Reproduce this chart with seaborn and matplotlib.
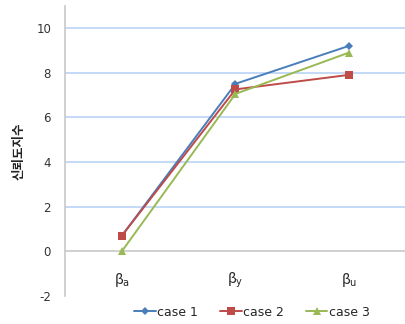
import matplotlib
matplotlib.use("Agg")
import matplotlib.pyplot as plt
import seaborn as sns
import pandas as pd

categories = ["β$_\\mathrm{a}$", "β$_\\mathrm{y}$", "β$_\\mathrm{u}$"]
case1 = [0.7, 7.5, 9.2]
case2 = [0.7, 7.25, 7.9]
case3 = [0.0, 7.05, 8.9]
series_names = ["case 1", "case 2", "case 3"]
y_ticks = [-2, 0, 2, 4, 6, 8, 10]

rows = []
for name, vals in zip(series_names, [case1, case2, case3]):
    for i, v in enumerate(vals):
        rows.append({"pos": i, "value": v, "case": name})
df = pd.DataFrame(rows)

sns.set_style("white")
plt.rcParams["font.family"] = ["Noto Sans CJK KR", "DejaVu Sans"]
plt.rcParams["mathtext.fontset"] = "dejavusans"

fig = plt.figure(figsize=(4.06, 3.24), dpi=100)
ax = fig.add_axes([65 / 406, 28 / 324, 341 / 406, 290.4 / 324])

palette = {"case 1": "#4a7ebb", "case 2": "#be4b48", "case 3": "#98b954"}
markers = {"case 1": "D", "case 2": "s", "case 3": "^"}
sizes = {"case 1": 4.5, "case 2": 6, "case 3": 6}

for g in y_ticks:
    if g > 0:
        ax.axhline(g, color="#b9d3f5", lw=1.2, zorder=0)

sns.lineplot(data=df, x="pos", y="value", hue="case", style="case",
             palette=palette, markers=markers, dashes=False, lw=1.4,
             markeredgewidth=0, markersize=6, legend=False, ax=ax, zorder=3)
for line, name in zip(ax.lines[-3:], series_names):
    line.set_markersize(sizes[name])

ax.set_xlim(-0.5, 2.5)
ax.set_ylim(-2, 11)
ax.set_yticks(y_ticks)
ax.set_yticklabels([str(t) for t in y_ticks], fontsize=8.5, color="#333333",
                   family="DejaVu Sans")
ax.set_xticks(range(len(categories)))
ax.set_xticklabels(categories, fontsize=9, color="#333333", family="DejaVu Sans")
ax.set_xticks([0.5, 1.5], minor=True)
ax.tick_params(axis="x", which="major", length=0, pad=14)
ax.tick_params(axis="x", which="minor", length=5, direction="inout",
               color="#a0a0a0", width=0.8)
ax.tick_params(axis="y", length=0, pad=10)

for side in ["top", "right"]:
    ax.spines[side].set_visible(False)
ax.spines["bottom"].set_position(("data", 0))
ax.spines["bottom"].set_color("#c8c8c8")
ax.spines["bottom"].set_linewidth(1.2)
ax.spines["left"].set_color("#c8c8c8")
ax.spines["left"].set_linewidth(1.2)
ax.set_xlabel("")
ax.set_ylabel("신뢰도지수", fontsize=9, color="#222222", labelpad=8,
              fontweight="bold")

handles = [plt.Line2D([], [], color=palette[n], marker=markers[n],
                      markersize=sizes[n], markeredgewidth=0, lw=1.4)
           for n in series_names]
fig.legend(handles, series_names, loc="center", bbox_to_anchor=(252 / 406, 1 - 312 / 324),
           ncol=3, frameon=False, handlelength=1.7,
           handletextpad=0.1, columnspacing=1.8, prop={"family": "DejaVu Sans", "size": 9})

fig.savefig("out.png", dpi=100)
